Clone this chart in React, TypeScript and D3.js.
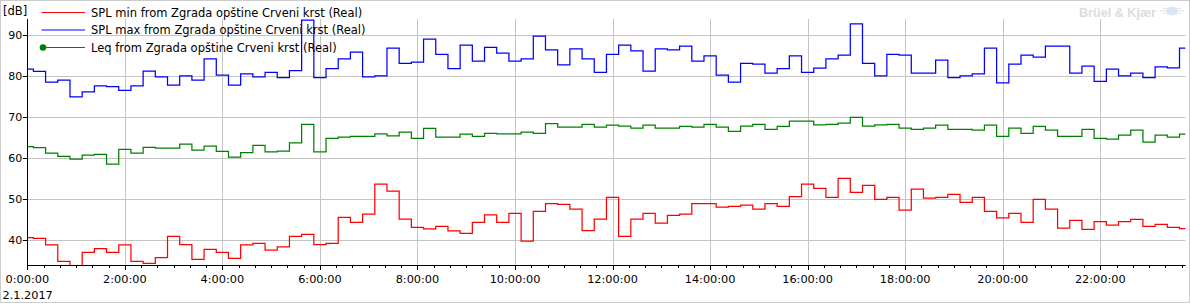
import React from "react";
import * as d3 from "d3";

// 15-minute values, 0:00 .. 23:45 on 2.1.2017
const splMaxValues = [
  81.8, 81.2, 78.6, 79.1, 75.0, 76.2, 77.7, 77.5, 76.6, 77.7, 81.3, 79.9, 77.9, 80.1, 79.1, 84.3,
  80.3, 77.9, 80.6, 79.9, 81.0, 79.7, 81.4, 93.7, 79.7, 81.9, 84.3, 85.9, 79.9, 80.1, 86.9, 83.2,
  83.5, 89.1, 85.4, 81.9, 87.6, 83.7, 87.1, 85.7, 83.7, 84.3, 89.8, 86.5, 82.8, 86.7, 84.3, 81.0,
  85.4, 87.6, 86.2, 81.3, 86.7, 86.5, 87.4, 83.7, 85.0, 80.3, 78.6, 83.2, 83.0, 80.8, 81.9, 85.0,
  81.0, 82.0, 84.3, 85.2, 92.8, 83.2, 80.1, 85.4, 85.2, 80.8, 80.8, 84.0, 79.7, 80.1, 80.6, 86.9,
  78.4, 83.0, 85.2, 84.7, 87.4, 87.4, 80.8, 82.5, 78.8, 81.8, 80.1, 80.8, 79.7, 82.3, 82.1, 86.9,
];

const leqValues = [
  62.9, 62.6, 61.3, 60.5, 59.8, 60.8, 61.0, 58.6, 62.2, 61.3, 62.7, 62.5, 62.5, 63.5, 62.0, 63.0,
  61.7, 60.3, 61.4, 63.2, 61.6, 61.8, 63.8, 68.3, 61.6, 64.9, 65.2, 65.4, 65.4, 66.0, 65.5, 66.4,
  64.9, 67.3, 65.2, 65.2, 65.9, 65.4, 66.1, 66.0, 66.0, 66.4, 66.1, 68.5, 67.6, 67.6, 68.3, 67.6,
  68.1, 67.9, 67.4, 68.1, 67.4, 67.4, 67.8, 67.6, 68.3, 67.6, 66.6, 67.9, 68.3, 67.1, 67.8, 69.1,
  69.1, 68.2, 68.3, 68.6, 70.0, 67.9, 68.2, 68.3, 67.4, 67.1, 67.4, 68.1, 67.1, 67.1, 66.9, 68.1,
  65.4, 67.4, 66.1, 67.8, 66.9, 65.4, 65.4, 67.1, 64.9, 64.7, 65.7, 66.9, 64.0, 65.7, 65.2, 65.9,
];

const splMinValues = [
  40.7, 40.5, 38.9, 34.9, 33.0, 37.1, 38.0, 37.1, 38.9, 34.9, 34.4, 35.8, 41.0, 39.0, 35.4, 37.8,
  37.1, 35.6, 38.9, 39.3, 37.6, 38.4, 41.0, 41.5, 39.0, 39.3, 45.6, 44.4, 46.4, 53.7, 52.0, 45.2,
  43.2, 42.8, 43.4, 42.3, 41.7, 44.4, 46.2, 44.4, 46.6, 39.8, 47.1, 49.0, 48.8, 47.6, 42.4, 45.2,
  50.5, 41.0, 45.2, 46.6, 44.2, 46.1, 46.4, 49.0, 49.0, 48.1, 48.3, 48.6, 47.6, 49.0, 48.3, 50.7,
  53.7, 52.7, 50.5, 55.1, 51.7, 53.4, 50.0, 50.5, 47.4, 52.5, 50.3, 50.5, 51.2, 49.3, 50.5, 47.1,
  45.5, 46.6, 44.4, 50.0, 47.6, 43.0, 44.9, 42.7, 44.6, 43.7, 44.6, 45.1, 43.4, 43.9, 43.2, 42.9,
];

const hours = splMaxValues.map((_, i) => i * 0.25);

const yTicks = [40, 50, 60, 70, 80, 90];
const xMajorTicks = [0, 2, 4, 6, 8, 10, 12, 14, 16, 18, 20, 22];
const xMajorLabels = [
  "0:00:00", "2:00:00", "4:00:00", "6:00:00", "8:00:00", "10:00:00",
  "12:00:00", "14:00:00", "16:00:00", "18:00:00", "20:00:00", "22:00:00",
];
const xMinorTicks = d3.range(0, 23.75, 1 / 3);
const dateLabel = "2.1.2017";
const yUnit = "[dB]";

const legendNames = [
  "SPL min from Zgrada opštine Crveni krst (Real)",
  "SPL max from Zgrada opštine Crveni krst (Real)",
  "Leq from Zgrada opštine Crveni krst (Real)",
];

const W = 1190;
const H = 305;
const left = 27.3;
const right = 1185.6;
const top = 19;
const bottom = 265;
const FONT = "'DejaVu Sans', Verdana, sans-serif";

export default function App() {
  const x = d3.scaleLinear().domain([0, 23.75]).range([left, right]);
  const y = d3.scaleLinear().domain([34, 94]).range([bottom, top]);

  const line = d3
    .line<number>()
    .x((_, i) => x(hours[i]))
    .y((d) => y(d))
    .curve(d3.curveStep);

  const series = [
    { name: legendNames[0], values: splMinValues, color: "#ff0000", marker: false },
    { name: legendNames[1], values: splMaxValues, color: "#0000ff", marker: false },
    { name: legendNames[2], values: leqValues, color: "#008000", marker: true },
  ];

  const grid = "#c4c4c4";

  return (
    <svg
      width={W}
      height={H}
      style={{ position: "absolute", left: 0, top: 0, background: "#fff" }}
    >
      <defs>
        <clipPath id="plot">
          <rect x={left} y={top} width={right - left} height={bottom - top} />
        </clipPath>
      </defs>
      <rect x={0.5} y={0.5} width={W - 1} height={302} fill="#fff" stroke="#cccccc" />

      {/* watermark */}
      <text
        x={1079}
        y={17}
        fontFamily="'Liberation Sans', Arial, sans-serif"
        fontWeight="bold"
        fontSize={12.6}
        fill="#dcdcdc"
      >
        Brüel &amp; Kjær
      </text>
      <g opacity={0.55}>
        <ellipse cx={1172} cy={11} rx={5.5} ry={4.2} fill="#b9cdee" />
        <line x1={1160} x2={1184} y1={11} y2={11} stroke="#b9cdee" strokeWidth={1} />
        <line x1={1163} x2={1181} y1={8.5} y2={8.5} stroke="#b9cdee" strokeWidth={0.8} />
        <line x1={1163} x2={1181} y1={13.5} y2={13.5} stroke="#b9cdee" strokeWidth={0.8} />
      </g>

      {/* grid */}
      {yTicks.map((t) => (
        <line
          key={"gy" + t}
          x1={left}
          x2={right}
          y1={Math.round(y(t)) + 0.5}
          y2={Math.round(y(t)) + 0.5}
          stroke={grid}
        />
      ))}
      {xMajorTicks.map((t) => (
        <line
          key={"gx" + t}
          x1={Math.round(x(t)) + 0.5}
          x2={Math.round(x(t)) + 0.5}
          y1={top}
          y2={bottom}
          stroke={grid}
        />
      ))}

      {/* series */}
      <g clipPath="url(#plot)">
        {series.map((s) => (
          <path
            key={s.name}
            d={line(s.values) || ""}
            fill="none"
            stroke={s.color}
            strokeWidth={1.25}
          />
        ))}
      </g>

      {/* axes */}
      <line x1={Math.round(left) + 0.5} x2={Math.round(left) + 0.5} y1={top} y2={bottom + 0.5} stroke="#000" />
      <line x1={left} x2={right} y1={bottom + 0.5} y2={bottom + 0.5} stroke="#000" />
      {yTicks.map((t) => (
        <g key={"yt" + t}>
          <line
            x1={left - 4.5}
            x2={left}
            y1={Math.round(y(t)) + 0.5}
            y2={Math.round(y(t)) + 0.5}
            stroke="#000"
          />
          <text
            x={left - 5}
            y={y(t)}
            dy="0.36em"
            textAnchor="end"
            fontFamily={FONT}
            fontSize={11}
            fill="#000"
          >
            {t}
          </text>
        </g>
      ))}
      {xMinorTicks.map((t, i) => (
        <line
          key={"mx" + i}
          x1={Math.round(x(t)) + 0.5}
          x2={Math.round(x(t)) + 0.5}
          y1={bottom}
          y2={bottom + 3}
          stroke="#000"
        />
      ))}
      {xMajorTicks.map((t, i) => (
        <g key={"xt" + t}>
          <line
            x1={Math.round(x(t)) + 0.5}
            x2={Math.round(x(t)) + 0.5}
            y1={bottom}
            y2={bottom + 5}
            stroke="#000"
          />
          <text
            x={x(t)}
            y={283}
            textAnchor="middle"
            fontFamily={FONT}
            fontSize={11.3}
            fill="#000"
          >
            {xMajorLabels[i]}
          </text>
        </g>
      ))}
      <text x={2.5} y={299} fontFamily={FONT} fontSize={11.3} fill="#000">
        {dateLabel}
      </text>
      <text x={3} y={15} fontFamily={FONT} fontSize={11.5} fill="#000">
        {yUnit}
      </text>

      {/* legend */}
      {series.map((s, i) => {
        const ly = 12.5 + i * 17.5;
        return (
          <g key={"lg" + i}>
            <line x1={41.5} x2={85} y1={ly} y2={ly} stroke={s.color} strokeWidth={1.2} />
            {s.marker && <circle cx={43} cy={ly} r={3.3} fill={s.color} />}
            <text
              x={91}
              y={ly}
              dy="0.36em"
              fontFamily={FONT}
              fontSize={11.5}
              fill="#000"
            >
              {s.name}
            </text>
          </g>
        );
      })}
    </svg>
  );
}
